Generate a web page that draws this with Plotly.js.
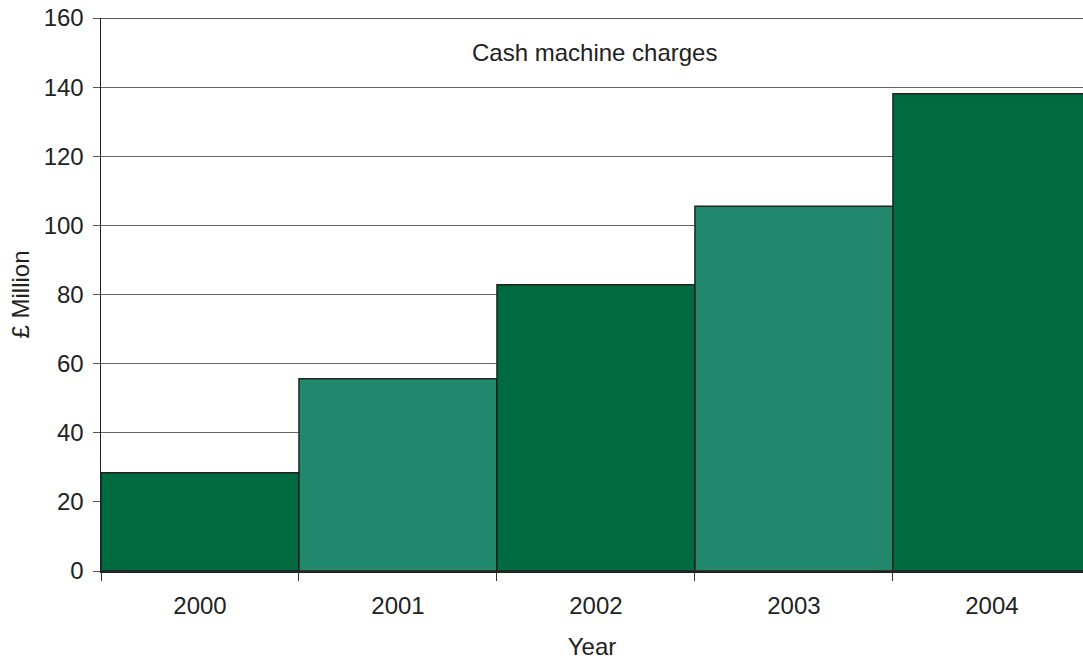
<!DOCTYPE html>
<html>
<head>
<meta charset="utf-8">
<script src="https://cdn.plot.ly/plotly-3.0.1.min.js"></script>
<style>html,body{margin:0;padding:0;background:#fff;}#chart{width:1083px;height:660px;}</style>
</head>
<body>
<div id="chart"></div>
<script>
const years = ["2000", "2001", "2002", "2003", "2004"];
const charges = [28.4, 55.6, 82.8, 105.5, 138.1];
const yTicks = [0, 20, 40, 60, 80, 100, 120, 140, 160];
const chartTitle = "Cash machine charges";
const xTitle = "Year";
const yTitle = "£ Million";

const darkGreen = "#006a40";
const lightGreen = "#21886b";
const barColors = years.map((_, i) => (i % 2 === 0 ? darkGreen : lightGreen));

const font = {family: "Liberation Sans, Arial, sans-serif", size: 24, color: "#222222"};

const data = [{
  type: "bar",
  x: years,
  y: charges,
  width: 1,
  marker: {color: barColors, line: {color: "#222222", width: 1.5}},
  hoverinfo: "x+y"
}];

const layout = {
  width: 1083,
  height: 660,
  margin: {l: 101, r: 0, t: 18, b: 89},
  paper_bgcolor: "#ffffff",
  plot_bgcolor: "#ffffff",
  font: font,
  showlegend: false,
  bargap: 0,
  xaxis: {
    type: "category",
    range: [-0.5, 4.46],
    tickson: "boundaries",
    ticks: "outside",
    ticklen: 8,
    tickwidth: 1,
    tickcolor: "#333333",
    ticklabelstandoff: 12,
    showline: true,
    linecolor: "#222222",
    linewidth: 2,
    showgrid: false,
    zeroline: false,
    tickfont: font,
    title: {text: xTitle, font: font, standoff: 22}
  },
  yaxis: {
    range: [0, 160],
    tickvals: yTicks,
    ticktext: yTicks.map(String),
    ticks: "outside",
    ticklen: 7,
    tickwidth: 1,
    tickcolor: "#555555",
    ticklabelstandoff: 4,
    showline: true,
    linecolor: "#222222",
    linewidth: 1.5,
    showgrid: true,
    gridcolor: "#666666",
    gridwidth: 1,
    zeroline: false,
    tickfont: font,
    title: {text: yTitle, font: font, standoff: 7}
  },
  shapes: [{
    type: "line", xref: "paper", yref: "y",
    x0: 0, x1: 1, y0: 160, y1: 160,
    line: {color: "#222222", width: 1.5}
  }],
  annotations: [{
    text: chartTitle,
    xref: "paper", yref: "paper",
    x: 0.503, y: 0.937,
    xanchor: "center", yanchor: "middle",
    showarrow: false,
    font: font
  }]
};

Plotly.newPlot("chart", data, layout, {displayModeBar: false, staticPlot: true});
</script>
</body>
</html>
